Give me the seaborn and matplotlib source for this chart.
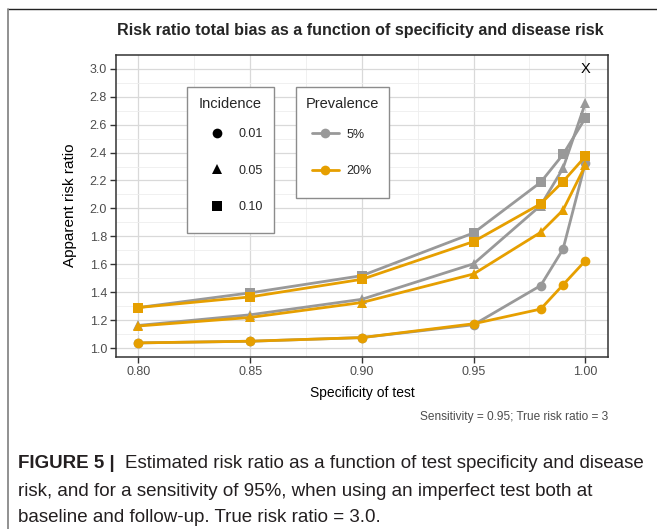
import matplotlib
matplotlib.use("Agg")
import matplotlib.pyplot as plt
import numpy as np
import pandas as pd
import seaborn as sns
from matplotlib.lines import Line2D
from matplotlib.patches import Rectangle

# ---------------- data ----------------
specificity = [0.80, 0.85, 0.90, 0.95, 0.98, 0.99, 1.00]
incidence_levels = ["0.01", "0.05", "0.10"]
prevalence_levels = ["5%", "20%"]

rr_prev05_inc001 = [1.038, 1.050, 1.076, 1.168, 1.448, 1.708, 2.325]
rr_prev05_inc005 = [1.163, 1.239, 1.350, 1.604, 2.021, 2.287, 2.754]
rr_prev05_inc010 = [1.291, 1.396, 1.519, 1.825, 2.187, 2.386, 2.647]
rr_prev20_inc001 = [1.038, 1.050, 1.076, 1.175, 1.280, 1.453, 1.626]
rr_prev20_inc005 = [1.159, 1.220, 1.327, 1.531, 1.829, 1.988, 2.308]
rr_prev20_inc010 = [1.291, 1.367, 1.493, 1.763, 2.033, 2.192, 2.372]

true_rr_x = [1.00]
true_rr_y = [3.0]

x_ticks = [0.80, 0.85, 0.90, 0.95, 1.00]
x_tick_labels = ["0.80", "0.85", "0.90", "0.95", "1.00"]
y_ticks = [1.0, 1.2, 1.4, 1.6, 1.8, 2.0, 2.2, 2.4, 2.6, 2.8, 3.0]
y_tick_labels = ["1.0", "1.2", "1.4", "1.6", "1.8", "2.0", "2.2", "2.4", "2.6", "2.8", "3.0"]

series = {
    ("5%", "0.01"): rr_prev05_inc001,
    ("5%", "0.05"): rr_prev05_inc005,
    ("5%", "0.10"): rr_prev05_inc010,
    ("20%", "0.01"): rr_prev20_inc001,
    ("20%", "0.05"): rr_prev20_inc005,
    ("20%", "0.10"): rr_prev20_inc010,
}
rows = []
for (prev, inc), vals in series.items():
    for s, v in zip(specificity, vals):
        rows.append({"spec": s, "rr": v, "Prevalence": prev, "Incidence": inc})
df = pd.DataFrame(rows)

# ---------------- style ----------------
GRAY = "#999999"
ORANGE = "#E69F00"
W, H = 657, 529

sns.set_theme(style="white")
plt.rcParams["font.family"] = ["Liberation Sans", "DejaVu Sans"]

fig = plt.figure(figsize=(W / 100, H / 100), dpi=100)
fig.patch.set_facecolor("white")


def fx(x):
    return x / W


def fy(y):
    return 1 - y / H


L, R, T, B = 116, 607.7, 54.7, 357.3
ax = fig.add_axes([fx(L), fy(B), (R - L) / W, (B - T) / H])

sns.lineplot(
    data=df, x="spec", y="rr", hue="Prevalence", style="Incidence",
    hue_order=prevalence_levels, style_order=incidence_levels,
    palette=[GRAY, ORANGE], markers=["o", "^", "s"], dashes=False,
    markersize=7, markeredgewidth=0, linewidth=2.0,
    estimator=None, sort=False, legend=False, ax=ax,
)
ax.text(true_rr_x[0], true_rr_y[0], "X", ha="center", va="center",
        fontsize=10.5, color="black")

ax.set_xlim(0.79, 1.01)
ax.set_ylim(0.935, 3.1)
ax.set_xticks(x_ticks)
ax.set_xticklabels(x_tick_labels)
ax.set_yticks(y_ticks)
ax.set_yticklabels(y_tick_labels)
ax.set_xticks([0.825, 0.875, 0.925, 0.975], minor=True)
ax.set_yticks([1.1, 1.3, 1.5, 1.7, 1.9, 2.1, 2.3, 2.5, 2.7, 2.9], minor=True)
ax.grid(which="major", color="#D9D9D9", linewidth=0.9)
ax.grid(which="minor", color="#EEEEEE", linewidth=0.6)
ax.set_axisbelow(True)
ax.tick_params(which="major", length=4, width=1.0, color="#333333",
               labelsize=9, labelcolor="#4D4D4D", pad=2.5,
               bottom=True, left=True)
ax.tick_params(which="minor", length=0)
for sp in ax.spines.values():
    sp.set_color("#333333")
    sp.set_linewidth(1.1)
ax.set_xlabel("")
ax.set_ylabel("")

fig.text(fx(362), fy(393), "Specificity of test", ha="center", va="center",
         fontsize=10, color="black")
fig.text(fx(70), fy(205), "Apparent risk ratio", ha="center", va="center",
         rotation=90, fontsize=11, color="black")
fig.text(fx(360), fy(31),
         "Risk ratio total bias as a function of specificity and disease risk",
         ha="center", va="center", fontsize=11.6, fontweight="bold")
fig.text(fx(608), fy(417), "Sensitivity = 0.95; True risk ratio = 3",
         ha="right", va="center", fontsize=8.6, color="#4D4D4D")

# ---------------- legends ----------------
fig.add_artist(Rectangle((fx(187.3), fy(233.3)), (273.7 - 187.3) / W, (233.3 - 87.3) / H,
                         transform=fig.transFigure, facecolor="white",
                         edgecolor="#8C8C8C", linewidth=1.0, zorder=2))
fig.add_artist(Rectangle((fx(296), fy(198.3)), (389 - 296) / W, (198.3 - 87.3) / H,
                         transform=fig.transFigure, facecolor="white",
                         edgecolor="#8C8C8C", linewidth=1.0, zorder=2))
fig.text(fx(230.5), fy(104.3), "Incidence", ha="center", va="center", fontsize=10.5, zorder=3)
fig.text(fx(342.5), fy(104.3), "Prevalence", ha="center", va="center", fontsize=10.5, zorder=3)

inc_handles = [Line2D([], [], color="black", marker=m, linestyle="none",
                      markersize=7, markeredgewidth=0) for m in ["o", "^", "s"]]
leg1 = fig.legend(inc_handles, incidence_levels, loc="center left",
                  bbox_to_anchor=(fx(211.7), fy(170.5)), frameon=False,
                  borderpad=0, borderaxespad=0, handlelength=0.8,
                  handletextpad=1.35, labelspacing=1.95, fontsize=9)
prev_handles = [Line2D([], [], color=c, marker="o", linewidth=2.0,
                       markersize=7, markeredgewidth=0) for c in [GRAY, ORANGE]]
leg2 = fig.legend(prev_handles, prevalence_levels, loc="center left",
                  bbox_to_anchor=(fx(311.7), fy(153)), frameon=False,
                  borderpad=0, borderaxespad=0, handlelength=2.2,
                  handletextpad=0.6, labelspacing=1.95, fontsize=9)

# ---------------- outer frame ----------------
fig.add_artist(Line2D([fx(8), 1.0], [fy(9.3), fy(9.3)], transform=fig.transFigure,
                      color="#222222", linewidth=1.0))
fig.add_artist(Line2D([fx(8.3), fx(8.3)], [fy(9), 0.0], transform=fig.transFigure,
                      color="#888888", linewidth=1.3))

# ---------------- caption ----------------
cap_size = 13.5
t_bold = fig.text(fx(18), fy(464), "FIGURE 5 |", ha="left", va="center",
                  fontsize=cap_size, fontweight="bold", color="#231F20")
fig.canvas.draw()
rend = fig.canvas.get_renderer()
bb = t_bold.get_window_extent(rend)
t_rest = fig.text(bb.x1 / W + fx(10), fy(464),
                  "Estimated risk ratio as a function of test specificity and disease",
                  ha="left", va="center", fontsize=cap_size, color="#231F20")
fig.text(fx(18), fy(491),
         "risk, and for a sensitivity of 95%, when using an imperfect test both at",
         ha="left", va="center", fontsize=cap_size, color="#231F20")
fig.text(fx(18), fy(518), "baseline and follow-up. True risk ratio = 3.0.",
         ha="left", va="center", fontsize=cap_size, color="#231F20")

fig.savefig("out.png", dpi=100, facecolor="white")
